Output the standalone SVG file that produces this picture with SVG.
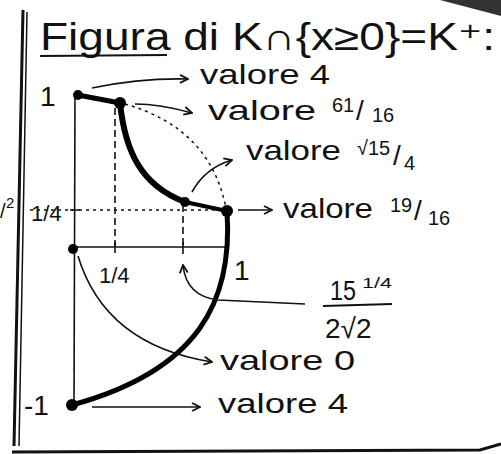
<svg xmlns="http://www.w3.org/2000/svg" width="501" height="454" viewBox="0 0 501 454">
<defs>
<marker id="ah" viewBox="0 0 10 10" refX="9" refY="5" markerWidth="10" markerHeight="10" markerUnits="userSpaceOnUse" orient="auto">
<path d="M1,1 L9,5 L1,9" fill="none" stroke="#111" stroke-width="1.8"/>
</marker>
<style>
text{font-family:"Liberation Sans","DejaVu Sans",sans-serif;fill:#111}
.lbl{font-size:28px}
.sm{font-size:20px}
.fr{font-size:22px}
.xs{font-size:15px}
.t{font-size:38px}
.ax{stroke:#111;stroke-width:1.6;fill:none}
.dot{stroke:#111;stroke-width:1.5;fill:none;stroke-dasharray:3 4}
.dash{stroke:#111;stroke-width:1.6;fill:none;stroke-dasharray:7 4}
.thick{stroke:#000;fill:none;stroke-linecap:round}
.arr{stroke:#111;stroke-width:1.6;fill:none;marker-end:url(#ah)}
.pt{fill:#000}
</style>
</defs>
<rect width="501" height="454" fill="#fff"/>
<polygon points="440,0 501,0 501,16" fill="#333"/>
<g id="frame">
<line x1="23" y1="10" x2="14" y2="446" stroke="#111" stroke-width="3"/>
<line x1="27" y1="12" x2="19" y2="446" stroke="#111" stroke-width="1.5"/>
<path d="M12,452 L480,450 L501,444" stroke="#111" stroke-width="3" fill="none"/>
</g>
<g id="title">
<text class="t" x="40" y="50" textLength="455" lengthAdjust="spacingAndGlyphs">Figura di K∩{x≥0}=K⁺:</text>
<line x1="40" y1="56" x2="167" y2="55" stroke="#111" stroke-width="2"/>
</g>
<g id="axes">
<line class="ax" x1="75" y1="95" x2="74" y2="405"/>
<line class="ax" x1="73" y1="247" x2="229" y2="247"/>
<line class="ax" x1="115" y1="242" x2="115" y2="253"/>
<line class="ax" x1="183" y1="242" x2="183" y2="254"/>
<line class="dot" x1="30" y1="210" x2="222" y2="210"/>
<line class="ax" x1="70" y1="210" x2="80" y2="210"/>
<line class="dash" x1="115" y1="108" x2="115" y2="247"/>
<line class="dash" x1="183" y1="205" x2="183" y2="247"/>
<path class="dot" d="M125,104 Q210,128 226,208"/>
</g>
<g id="curve">
<line class="thick" x1="78" y1="95" x2="120" y2="103" stroke-width="5"/>
<path class="thick" d="M120,103 C125,150 140,185 185,202" stroke-width="6"/>
<line class="thick" x1="185" y1="202" x2="227" y2="211" stroke-width="4"/>
<path class="thick" d="M227,211 C233,300 200,370 72,405" stroke-width="5"/>
</g>
<g id="points">
<circle class="pt" cx="78" cy="95" r="5"/>
<circle class="pt" cx="120" cy="103" r="6"/>
<circle class="pt" cx="185" cy="202" r="5"/>
<circle class="pt" cx="227" cy="211" r="6"/>
<circle class="pt" cx="73" cy="249" r="5"/>
<circle class="pt" cx="72" cy="405" r="6"/>
</g>
<g id="axis-labels">
<text class="lbl" x="40" y="106">1</text>
<text class="fr" x="31" y="221">1/4</text>
<text class="sm" x="0" y="218">/</text>
<text class="xs" x="6" y="208">2</text>
<text class="fr" x="99" y="283">1/4</text>
<text class="lbl" x="234" y="280">1</text>
<text class="lbl" x="24" y="415">-1</text>
</g>
<g id="connectors">
<path class="arr" d="M92,88 Q140,78 188,79"/>
<path class="arr" d="M135,104 Q160,104 192,113"/>
<path class="arr" d="M192,192 Q205,168 232,160"/>
<path class="arr" d="M238,210 L272,210"/>
<path class="arr" d="M305,304 L218,300 Q186,296 183,265"/>
<path class="arr" d="M78,256 Q105,345 212,362"/>
<path class="arr" d="M92,407 L200,407"/>
</g>
<g id="labels">
<text class="lbl" x="200" y="84" textLength="130" lengthAdjust="spacingAndGlyphs">valore 4</text>
<text class="lbl" x="208" y="120" textLength="108" lengthAdjust="spacingAndGlyphs">valore</text>
<text class="sm" x="332" y="112">61</text><text class="lbl" x="356" y="120">/</text><text class="sm" x="372" y="122">16</text>
<text class="lbl" x="246" y="160" textLength="95" lengthAdjust="spacingAndGlyphs">valore</text>
<text class="sm" x="357" y="155">√15</text><text class="lbl" x="393" y="165">/</text><text class="sm" x="404" y="170">4</text>
<text class="lbl" x="283" y="218" textLength="90" lengthAdjust="spacingAndGlyphs">valore</text>
<text class="sm" x="390" y="212">19</text><text class="lbl" x="414" y="220">/</text><text class="sm" x="428" y="225">16</text>
<text class="lbl" x="330" y="300" textLength="26" lengthAdjust="spacingAndGlyphs">15</text>
<text class="xs" x="362" y="288" textLength="30" lengthAdjust="spacingAndGlyphs">1/4</text>
<line x1="323" y1="306" x2="392" y2="304" stroke="#111" stroke-width="1.8"/>
<text class="lbl" x="325" y="338">2√2</text>
<text class="lbl" x="220" y="370" textLength="135" lengthAdjust="spacingAndGlyphs">valore 0</text>
<text class="lbl" x="218" y="413" textLength="130" lengthAdjust="spacingAndGlyphs">valore 4</text>
</g>
</svg>
